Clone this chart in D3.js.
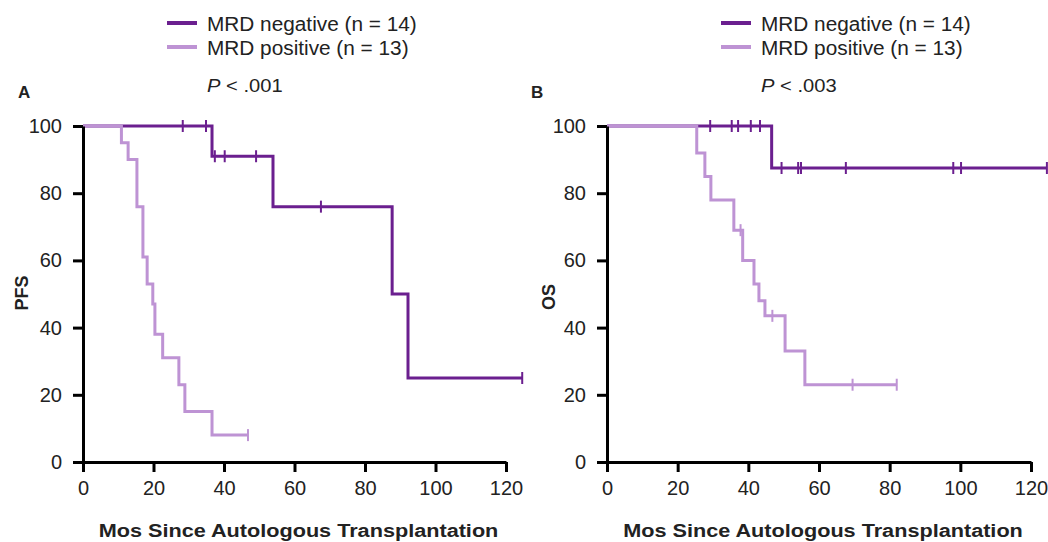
<!DOCTYPE html>
<html>
<head>
<meta charset="utf-8">
<script src="https://cdn.jsdelivr.net/npm/d3@7"></script>
<style>
  body { margin: 0; background: #fff; }
  svg text { font-family: "Liberation Sans", Arial, sans-serif; fill: #222; }
</style>
</head>
<body>
<div id="chart"></div>
<script>
// axis ticks and labels
var monthTicks = [0, 20, 40, 60, 80, 100, 120];
var pctTicks = [0, 20, 40, 60, 80, 100];
var legendLabels = ['MRD negative (n = 14)', 'MRD positive (n = 13)'];
var xTitle = 'Mos Since Autologous Transplantation';

// panel A - PFS (event times in months, survival % after each event, censor times)
var pfsNegTimes = [36.6, 53.9, 87.7, 92.2];
var pfsNegSurv = [91, 76, 50, 25];
var pfsNegCensor = [28.3, 34.9, 37.4, 40.2, 49.1, 67.5, 124.6];
var pfsPosTimes = [10.9, 12.8, 15.3, 17.0, 18.2, 19.8, 20.4, 22.6, 27.2, 28.9, 36.6];
var pfsPosSurv = [95, 90, 76, 61, 53, 47, 38, 31, 23, 15, 8];
var pfsPosCensor = [46.8];

// panel B - OS
var osNegTimes = [46.6];
var osNegSurv = [87.5];
var osNegCensor = [29.2, 35.3, 37.1, 40.7, 43.3, 49.4, 54.1, 54.9, 67.6, 98.0, 100.2, 124.5];
var osPosTimes = [25.4, 27.7, 29.4, 35.9, 38.4, 41.6, 43.0, 44.7, 50.4, 56.0];
var osPosSurv = [92, 85, 78, 69, 60, 53, 48, 43.5, 33, 23];
var osPosCensor = [37.8, 46.8, 69.5, 82.0];

var darkPurple = '#6b1f8f';
var lightPurple = '#be93d4';

var svg = d3.select('#chart')
  .append('svg')
  .attr('width', 1048)
  .attr('height', 542);

// text with a small horizontal stretch like the source figure
function addText(sel, x, y, str, size, weight, sx, anchor) {
  return sel.append('text')
    .attr('transform', 'translate(' + x + ',' + y + ') scale(' + sx + ',1)')
    .attr('text-anchor', anchor || 'start')
    .style('font-size', size + 'px')
    .style('font-weight', weight || 'normal')
    .text(str);
}

// build points for a step curve
function stepPoints(times, surv, censor) {
  var pts = [[0, 100]];
  times.forEach(function(t, i) { pts.push([t, surv[i]]); });
  var end = d3.max(censor.concat(times));
  pts.push([end, surv[surv.length - 1]]);
  return pts;
}

// survival value at time t
function survAt(times, surv, t) {
  var v = 100;
  times.forEach(function(tt, i) { if (tt <= t) v = surv[i]; });
  return v;
}

function drawPanel(cfg) {
  var x = d3.scaleLinear().domain([0, 120]).range([cfg.x0, cfg.x1]);
  var y = d3.scaleLinear().domain([0, 100]).range([462, 126]);
  var g = svg.append('g');

  var line = d3.line()
    .x(function(d) { return x(d[0]); })
    .y(function(d) { return y(d[1]); })
    .curve(d3.curveStepAfter);

  // negative first, positive on top
  cfg.series.forEach(function(s) {
    g.append('path')
      .datum(stepPoints(s.times, s.surv, s.censor))
      .attr('d', line)
      .attr('fill', 'none')
      .attr('stroke', s.color)
      .attr('stroke-width', 3);

    g.selectAll(null)
      .data(s.censor)
      .enter()
      .append('line')
      .attr('x1', function(d) { return x(d); })
      .attr('x2', function(d) { return x(d); })
      .attr('y1', function(d) { return y(survAt(s.times, s.surv, d)) - 6; })
      .attr('y2', function(d) { return y(survAt(s.times, s.surv, d)) + 6; })
      .attr('stroke', s.color)
      .attr('stroke-width', 2);
  });

  // axes
  var xAxis = g.append('g')
    .attr('transform', 'translate(0,462)')
    .call(d3.axisBottom(x).tickValues(monthTicks).tickSize(10).tickSizeOuter(0).tickPadding(9));
  var yAxis = g.append('g')
    .attr('transform', 'translate(' + cfg.x0 + ',0)')
    .call(d3.axisLeft(y).tickValues(pctTicks).tickSize(10).tickSizeOuter(0).tickPadding(11));

  [xAxis, yAxis].forEach(function(a) {
    a.select('.domain').attr('stroke', '#000').attr('stroke-width', 3);
    a.selectAll('.tick line').attr('stroke', '#000').attr('stroke-width', 3);
    a.selectAll('.tick text')
      .attr('fill', '#222')
      .style('font-size', '20px')
      .style('font-family', '"Liberation Sans", Arial, sans-serif');
  });

  // axis titles
  addText(g, (cfg.x0 + cfg.x1) / 2 + 4, 537, xTitle, 19, 'bold', 1.14, 'middle');
  g.append('text')
    .attr('transform', 'translate(' + cfg.yLabelX + ',' + cfg.yLabelY + ') rotate(-90)')
    .attr('text-anchor', 'middle')
    .style('font-size', '18px')
    .style('font-weight', 'bold')
    .text(cfg.yLabel);

  // panel letter
  addText(g, cfg.letterX, 98, cfg.letter, 17, 'bold', 1);

  // legend
  legendLabels.forEach(function(lbl, i) {
    var ly = 23 + i * 24;
    g.append('line')
      .attr('x1', cfg.legendX).attr('x2', cfg.legendX + 30)
      .attr('y1', ly).attr('y2', ly)
      .attr('stroke', cfg.series[i].color)
      .attr('stroke-width', 4);
    addText(g, cfg.legendX + 40, ly + 8, lbl, 20, 'normal', 1.04);
  });

  // p value
  var p = g.append('text')
    .attr('transform', 'translate(' + (cfg.legendX + 40) + ',92) scale(1.12,1)')
    .style('font-size', '18px');
  p.append('tspan').style('font-style', 'italic').text('P');
  p.append('tspan').text(' < ' + cfg.pText);
}

drawPanel({
  x0: 83, x1: 506, letter: 'A', letterX: 18, legendX: 167,
  yLabel: 'PFS', yLabelX: 28, yLabelY: 293, pText: '.001',
  series: [
    {times: pfsNegTimes, surv: pfsNegSurv, censor: pfsNegCensor, color: darkPurple},
    {times: pfsPosTimes, surv: pfsPosSurv, censor: pfsPosCensor, color: lightPurple}
  ]
});

drawPanel({
  x0: 607, x1: 1031, letter: 'B', letterX: 531, legendX: 721,
  yLabel: 'OS', yLabelX: 555, yLabelY: 297, pText: '.003',
  series: [
    {times: osNegTimes, surv: osNegSurv, censor: osNegCensor, color: darkPurple},
    {times: osPosTimes, surv: osPosSurv, censor: osPosCensor, color: lightPurple}
  ]
});
</script>
</body>
</html>
